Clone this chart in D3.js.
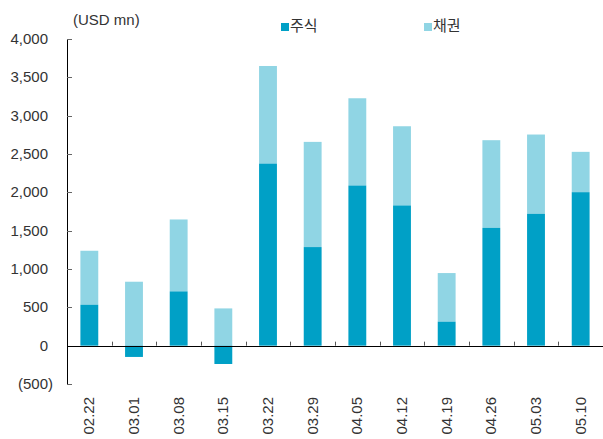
<!DOCTYPE html>
<html>
<head>
<meta charset="utf-8">
<script src="https://cdn.jsdelivr.net/npm/d3@7"></script>
<style>
  body { margin: 0; background: #fff; }
  text { font-family: "Liberation Sans", "Noto Sans CJK KR", sans-serif; fill: #333; }
</style>
</head>
<body>
<div id="chart"></div>
<script>
var weeks = ['02.22', '03.01', '03.08', '03.15', '03.22', '03.29', '04.05', '04.12', '04.19', '04.26', '05.03', '05.10']
var stocks = [534, -147, 708, -239, 2375, 1286, 2089, 1829, 313, 1537, 1720, 2002]
var bonds = [704, 834, 938, 486, 1273, 1372, 1138, 1033, 634, 1143, 1034, 526]
var yTicks = [-500, 0, 500, 1000, 1500, 2000, 2500, 3000, 3500, 4000]
var seriesNames = ['주식', '채권']
var colors = ['#00a0c6', '#90d5e4']

var width = 603
var height = 439
var margin = { top: 39, left: 67, right: 0, bottom: 55 }

var svg = d3.select('#chart')
  .append('svg')
  .attr('width', width)
  .attr('height', height)

var x = d3.scaleBand()
  .domain(weeks)
  .range([margin.left, width - margin.right])
  .paddingInner(0.6)
  .paddingOuter(0.3)

var y = d3.scaleLinear()
  .domain([-500, 4000])
  .range([height - margin.bottom, margin.top])

var step = x.step()

// bars: stock from 0, bond stacked on positive side
weeks.forEach(function(w, i) {
  var s = stocks[i]
  var b = bonds[i]
  var base = s > 0 ? s : 0
  svg.append('rect')
    .attr('x', x(w))
    .attr('width', x.bandwidth())
    .attr('y', y(base + b))
    .attr('height', y(base) - y(base + b))
    .attr('fill', colors[1])
  svg.append('rect')
    .attr('x', x(w))
    .attr('width', x.bandwidth())
    .attr('y', y(Math.max(s, 0)))
    .attr('height', Math.abs(y(s) - y(0)))
    .attr('fill', colors[0])
})

// y axis
svg.append('line')
  .attr('x1', margin.left + 0.5).attr('x2', margin.left + 0.5)
  .attr('y1', y(4000)).attr('y2', y(-500))
  .attr('stroke', '#000')

yTicks.forEach(function(t) {
  svg.append('line')
    .attr('x1', margin.left).attr('x2', margin.left + 5)
    .attr('y1', Math.round(y(t)) + 0.5).attr('y2', Math.round(y(t)) + 0.5)
    .attr('stroke', '#666')
  svg.append('text')
    .attr('x', t < 0 ? 53 : 48)
    .attr('y', y(t) + 5)
    .attr('text-anchor', 'end')
    .attr('font-size', 15)
    .text(t < 0 ? '(' + d3.format(',')(-t) + ')' : d3.format(',')(t))
})

// x axis at zero
svg.append('line')
  .attr('x1', margin.left).attr('x2', width)
  .attr('y1', Math.round(y(0)) + 0.5).attr('y2', Math.round(y(0)) + 0.5)
  .attr('stroke', '#000')

weeks.forEach(function(w, i) {
  if (i > 0) {
    var tx = Math.round(x(w) - x.step() * x.paddingInner() / 2) + 0.5
    svg.append('line')
      .attr('x1', tx).attr('x2', tx)
      .attr('y1', y(0) - 4).attr('y2', y(0))
      .attr('stroke', '#555')
  }
  var cx = x(w) + x.bandwidth() / 2
  svg.append('text')
    .attr('transform', 'translate(' + (cx + 5) + ',397) rotate(-90)')
    .attr('text-anchor', 'end')
    .attr('font-size', 15)
    .text(w)
})

// unit label
svg.append('text')
  .attr('x', 73)
  .attr('y', 25)
  .attr('font-size', 15)
  .text('(USD mn)')

// legend
var legendX = [281, 424]
seriesNames.forEach(function(n, i) {
  svg.append('rect')
    .attr('x', legendX[i]).attr('y', 23)
    .attr('width', 8).attr('height', 8)
    .attr('fill', colors[i])
  svg.append('text')
    .attr('x', legendX[i] + 9)
    .attr('y', 31)
    .attr('font-size', 15)
    .text(n)
})
</script>
</body>
</html>
